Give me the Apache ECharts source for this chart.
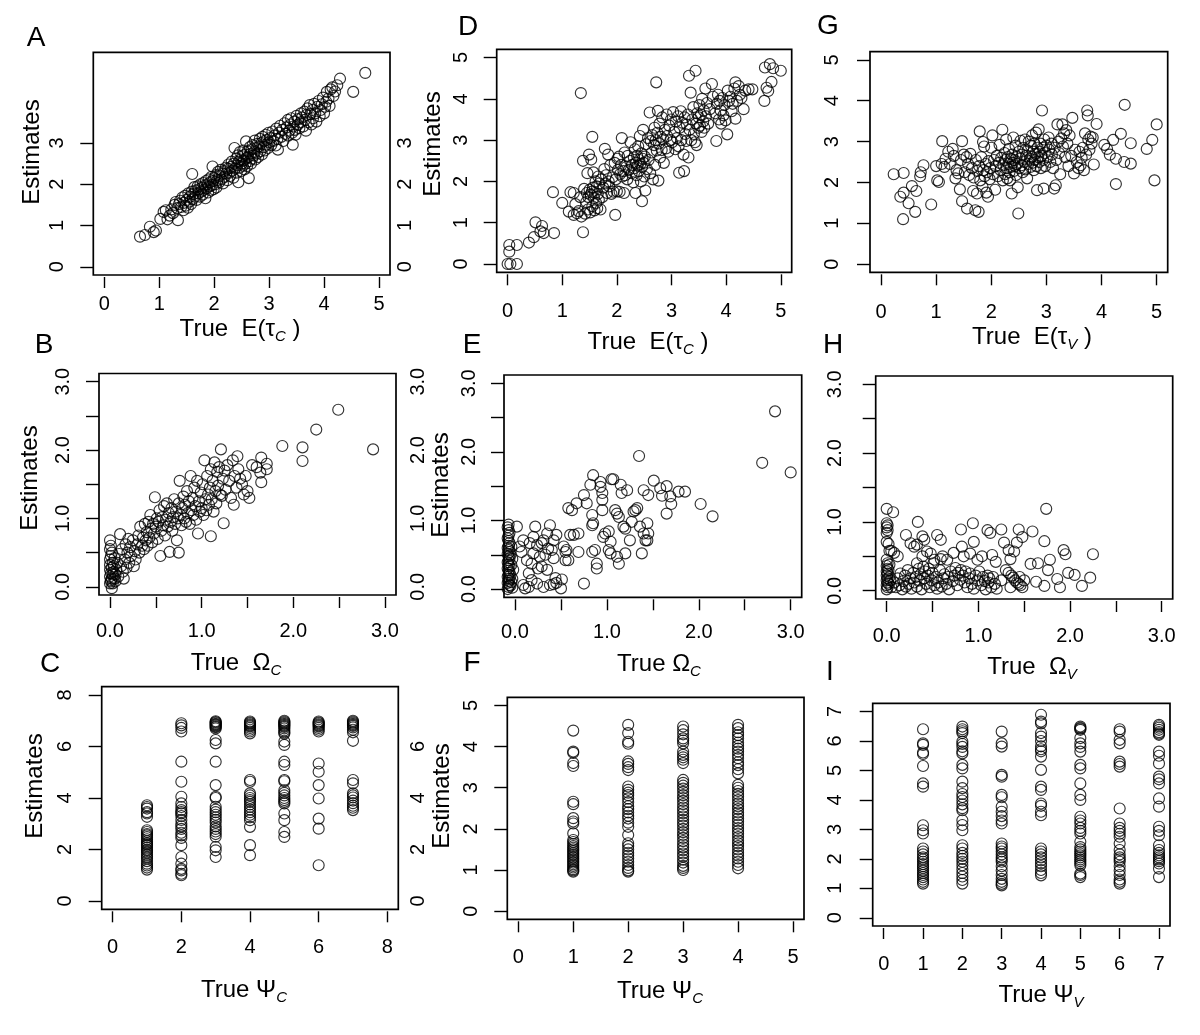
<!DOCTYPE html>
<html><head><meta charset="utf-8">
<script src="https://cdn.jsdelivr.net/npm/echarts@6/dist/echarts.min.js"></script>
<style>html,body{margin:0;padding:0;background:#fff}#c{width:1200px;height:1035px}</style>
</head><body><div id="c"></div>
<script>
// ---------- DATA ----------
// Panel A: True E(tau_C) vs Estimates
const A_pts = [[0.65,0.73],[0.74,0.77],[0.83,0.97],[0.90,0.84],[0.94,0.88],
[1.02,1.16],[1.08,1.33],[1.12,1.37],[1.15,1.15],[1.19,1.24],[1.22,1.39],[1.25,1.30],[1.28,1.50],[1.30,1.57],[1.34,1.13],
[1.33,1.42],[1.36,1.52],[1.38,1.60],[1.40,1.45],[1.42,1.68],[1.44,1.37],[1.45,1.55],[1.47,1.72],[1.48,1.48],[1.50,1.62],[1.52,1.43],[1.53,1.78],[1.55,1.58],[1.56,1.70],[1.58,1.52],[1.59,1.82],[1.60,2.25],[1.61,1.64],[1.62,1.76],[1.64,1.93],
[1.65,1.70],[1.66,1.85],[1.68,1.62],[1.70,1.95],[1.71,1.78],[1.72,1.88],[1.74,1.70],[1.75,2.00],[1.76,1.82],[1.78,1.92],[1.79,1.75],[1.80,2.03],[1.81,1.86],[1.83,1.97],[1.84,1.66],[1.85,2.08],[1.86,1.90],[1.88,2.00],[1.89,1.80],[1.90,2.12],[1.91,1.95],[1.93,2.05],[1.94,1.85],[1.95,2.18],[1.96,1.98],[1.97,2.43],[1.98,2.08],[1.99,1.88],[2.00,2.15],[2.02,2.00],
[2.03,2.22],[2.04,1.92],[2.06,2.10],[2.07,2.30],[2.09,2.05],[2.10,2.20],[2.12,2.35],[2.13,2.12],[2.15,2.25],[2.16,2.02],[2.18,2.32],[2.19,2.18],[2.21,2.40],[2.22,2.26],[2.24,2.10],[2.25,2.38],[2.26,2.48],[2.28,2.28],[2.29,2.20],[2.31,2.42],[2.32,2.55],[2.33,2.33],[2.35,2.16],[2.36,2.50],[2.37,2.88],[2.38,2.38],[2.40,2.62],[2.41,2.28],[2.42,2.46],[2.43,2.70],[2.44,2.05],[2.45,2.55],[2.46,2.40],[2.47,2.78],[2.48,2.60],[2.49,2.32],[2.50,2.50],[2.51,2.68],[2.52,2.45],[2.53,2.82],
[2.54,2.58],[2.55,2.36],[2.56,2.72],[2.57,2.50],[2.58,3.04],[2.59,2.64],[2.60,2.44],[2.61,2.80],[2.62,2.66],[2.63,2.15],[2.64,2.56],[2.65,2.90],[2.66,2.74],[2.67,2.50],[2.68,2.85],[2.69,2.62],[2.70,2.95],[2.72,2.70],[2.73,2.78],[2.74,3.06],[2.75,2.60],[2.77,2.88],[2.78,2.75],[2.79,2.98],[2.80,2.66],[2.82,2.92],[2.83,3.10],[2.84,2.80],[2.86,3.00],[2.87,2.72],[2.88,3.15],[2.90,2.90],[2.91,3.05],[2.92,2.82],[2.94,3.20],[2.95,2.96],[2.96,3.08],[2.98,2.88],[2.99,3.25],[3.00,3.02],
[3.02,3.12],[3.04,2.95],[3.06,3.28],[3.08,3.05],[3.10,3.18],[3.12,2.94],[3.13,3.35],[3.15,3.10],[3.16,2.84],[3.18,3.25],[3.20,3.42],[3.22,3.15],[3.24,3.32],[3.26,3.05],[3.28,3.48],[3.30,3.22],[3.32,3.38],[3.34,3.56],[3.35,3.18],[3.37,3.30],[3.39,3.45],[3.40,3.60],[3.42,3.25],[3.43,2.96],[3.44,3.40],[3.46,3.52],[3.47,3.32],[3.48,3.20],[3.50,3.66],[3.52,3.44],
[3.53,3.58],[3.55,3.36],[3.57,3.50],[3.58,3.72],[3.60,3.62],[3.62,3.40],[3.64,3.76],[3.65,3.56],[3.67,3.30],[3.68,3.68],[3.70,3.84],[3.72,3.50],[3.74,3.92],[3.75,3.70],[3.77,3.45],[3.79,3.80],[3.80,3.60],[3.82,3.95],[3.84,3.72],[3.86,3.52],[3.88,3.88],[3.90,4.02],[3.92,3.65],[3.94,3.80],[3.96,3.94],
[3.98,4.10],[4.00,3.72],[4.02,3.88],[4.04,4.00],[4.05,4.24],[4.08,4.08],[4.10,3.90],[4.12,4.30],[4.15,4.35],[4.17,4.14],[4.20,4.25],[4.24,4.40],[4.29,4.56],[4.53,4.24],[4.75,4.70]];

// Panel D: True E(tau_C) vs Estimates
const D_pts = [[0.00,0.00],[0.05,0.00],[0.17,0.00],[0.03,0.30],[0.03,0.46],[0.17,0.46],[0.39,0.52],[0.48,0.65],[0.51,1.01],[0.60,0.79],[0.63,0.92],[0.66,0.75],[0.85,0.75],[0.83,1.74],[1.00,1.48],
[1.12,1.27],[1.15,1.74],[1.21,1.72],[1.21,1.19],[1.27,1.23],[1.24,1.45],[1.30,1.28],[1.33,1.62],[1.34,4.14],[1.35,1.15],[1.38,0.77],[1.38,2.50],[1.40,1.82],[1.42,1.22],
[1.44,1.50],[1.45,1.72],[1.46,2.20],[1.47,1.32],[1.48,1.62],[1.49,2.65],[1.50,1.80],[1.51,1.25],[1.52,1.68],[1.53,2.53],[1.54,1.75],[1.55,3.08],[1.55,1.40],[1.56,1.85],[1.57,2.22],[1.58,1.60],[1.59,1.30],[1.60,1.72],[1.61,2.00],[1.62,1.48],[1.63,1.88],[1.64,1.35],[1.65,1.70],[1.66,2.12],[1.67,1.55],[1.68,1.95],[1.70,1.32],[1.71,2.05],[1.73,1.62],[1.75,1.85],
[1.77,2.30],[1.78,2.79],[1.79,1.95],[1.80,2.15],[1.82,1.72],[1.84,2.65],[1.85,2.00],[1.86,1.88],[1.88,2.40],[1.90,1.70],[1.92,2.10],[1.94,1.75],[1.96,2.45],[1.97,1.19],[1.98,2.05],[2.00,1.76],[2.01,2.55],[2.02,2.28],[2.04,2.60],[2.05,1.75],[2.06,2.18],[2.08,2.40],[2.09,3.05],[2.10,2.12],[2.12,2.25],[2.13,1.72],[2.14,2.70],[2.15,2.15],
[2.17,2.35],[2.19,2.05],[2.20,2.62],[2.22,2.28],[2.24,2.50],[2.25,2.95],[2.27,2.20],[2.28,2.40],[2.30,1.98],[2.31,2.58],[2.32,2.32],[2.33,2.78],[2.34,1.72],[2.35,2.45],[2.36,2.15],[2.37,2.62],[2.38,2.38],[2.39,2.85],[2.40,2.25],[2.41,2.52],[2.42,3.10],[2.43,2.42],[2.44,2.00],[2.45,2.68],[2.46,1.52],[2.46,2.35],[2.47,2.55],[2.48,3.25],[2.49,2.45],[2.50,2.12],[2.51,2.60],[2.52,1.78],[2.53,2.90],[2.55,2.30],[2.57,3.05],[2.58,2.52],[2.60,3.67],[2.61,2.20],[2.62,2.98],
[2.64,2.70],[2.65,3.12],[2.66,2.05],[2.68,2.88],[2.69,3.30],[2.70,2.40],[2.71,3.00],[2.72,4.40],[2.73,2.75],[2.74,3.18],[2.75,3.71],[2.76,2.02],[2.77,2.92],[2.78,3.40],[2.79,2.58],[2.80,3.08],[2.82,2.76],[2.83,3.55],[2.85,3.02],[2.86,2.45],[2.88,3.25],[2.90,2.80],[2.91,3.62],[2.92,3.10],[2.94,2.72],[2.96,3.35],[2.98,3.00],[2.99,3.50],
[3.01,2.95],[3.03,3.68],[3.05,3.20],[3.07,2.78],[3.08,3.45],[3.10,3.05],[3.12,3.58],[3.13,2.85],[3.14,2.21],[3.15,3.30],[3.17,3.70],[3.18,3.00],[3.20,3.42],[3.22,2.65],[3.23,2.25],[3.24,3.55],[3.25,3.15],[3.27,2.98],[3.28,3.38],[3.30,3.62],[3.31,2.58],[3.32,4.56],[3.33,3.25],[3.35,4.15],[3.36,3.00],[3.38,3.50],[3.40,3.80],[3.41,3.15],[3.43,2.95],[3.44,4.68],[3.45,3.40],[3.46,2.88],[3.47,3.65],[3.49,3.30],
[3.50,3.55],[3.51,3.85],[3.52,3.35],[3.54,3.62],[3.55,3.20],[3.56,4.00],[3.58,3.45],[3.59,3.72],[3.60,3.30],[3.62,4.25],[3.63,3.58],[3.65,3.90],[3.67,3.40],[3.70,3.75],[3.74,4.36],[3.76,4.05],[3.80,3.65],[3.82,2.98],[3.83,3.88],[3.85,4.10],[3.87,3.50],[3.88,3.95],[3.90,3.72],[3.91,3.40],[3.93,4.02],[3.95,3.60],[3.97,3.85],[3.99,3.48],
[4.02,3.14],[4.03,4.20],[4.05,3.95],[4.08,4.05],[4.10,3.70],[4.12,3.88],[4.15,4.25],[4.17,3.52],[4.17,4.40],[4.20,3.95],[4.23,4.31],[4.25,4.10],[4.28,4.02],[4.32,3.75],[4.35,4.20],[4.41,4.23],[4.48,4.23],[4.70,3.95],[4.71,4.76],[4.74,4.27],[4.77,4.19],[4.80,4.84],[4.83,4.41],[4.86,4.74],[5.00,4.68]];

// Panel G: True E(tau_V) vs Estimates
const G_pts = [[0.23,2.20],[0.41,2.23],[0.35,1.65],[0.41,1.75],[0.40,1.10],[0.56,1.91],[0.64,1.79],[0.50,1.49],[0.62,1.28],[0.71,2.15],[0.72,2.25],[0.77,2.42],[0.91,1.46],[1.02,2.05],[1.05,2.01],[1.00,2.40],[1.10,2.45],[1.11,3.01],[1.15,2.38],[1.17,2.58],[1.22,2.75],[1.25,2.45],[1.30,2.82],[1.32,2.65],[1.35,2.10],[1.37,2.30],[1.40,2.22],[1.43,1.83],[1.45,2.55],[1.47,3.01],[1.47,1.54],[1.50,2.68],[1.52,2.25],[1.55,2.62],[1.56,1.36],[1.58,2.45],[1.60,2.18],[1.62,2.70],[1.65,2.35],[1.67,1.79],[1.68,2.12],[1.71,1.32],[1.72,2.55],[1.74,1.73],[1.75,2.28],[1.77,1.28],[1.78,2.40],[1.79,3.25],[1.80,2.05],[1.82,2.62],[1.84,1.90],[1.85,2.99],[1.86,2.30],[1.87,2.88],[1.88,2.15],[1.90,2.45],[1.91,1.75],[1.92,2.25],[1.94,1.65],[1.95,2.52],[1.97,2.08],[1.98,2.35],[2.00,2.85],[2.02,3.15],[2.03,2.20],[2.05,2.55],[2.07,1.82],[2.08,2.40],[2.10,2.65],[2.12,2.15],[2.14,2.48],[2.15,2.92],[2.17,2.30],[2.18,2.60],[2.20,3.29],[2.21,2.05],[2.22,2.42],[2.24,2.72],[2.25,2.20],[2.26,2.55],[2.27,3.05],[2.28,2.35],[2.29,2.10],[2.30,2.62],[2.31,2.45],[2.32,2.82],[2.33,2.25],[2.34,2.05],[2.35,2.58],[2.36,2.38],[2.37,1.73],[2.38,2.68],[2.39,2.48],[2.40,3.10],[2.41,2.28],[2.42,2.55],[2.43,2.40],[2.44,2.90],[2.45,2.18],[2.46,2.62],[2.47,2.45],[2.48,1.88],[2.49,1.24],[2.50,2.75],[2.51,2.35],[2.52,2.58],[2.53,3.02],[2.55,2.42],[2.56,2.68],[2.57,2.25],[2.58,2.85],[2.60,2.50],[2.61,3.05],[2.62,2.32],[2.63,2.65],[2.65,2.10],[2.66,2.78],[2.67,2.45],[2.68,3.00],[2.70,2.58],[2.71,2.38],[2.72,2.90],[2.73,2.62],[2.74,3.15],[2.75,2.48],[2.76,2.75],[2.77,2.30],[2.78,2.95],[2.79,2.55],[2.80,2.70],[2.81,3.22],[2.82,2.40],[2.83,1.81],[2.84,2.85],[2.85,2.62],[2.86,3.30],[2.87,2.50],[2.88,2.75],[2.89,2.95],[2.90,2.35],[2.91,2.65],[2.92,3.76],[2.93,2.85],[2.94,2.55],[2.95,1.85],[2.96,3.05],[2.97,2.72],[2.98,2.40],[3.00,2.90],[3.02,2.62],[3.04,3.10],[3.05,2.80],[3.07,2.50],[3.09,2.95],[3.10,2.68],[3.12,2.35],[3.14,1.85],[3.15,2.85],[3.17,1.93],[3.18,2.55],[3.20,3.42],[3.22,3.00],[3.23,2.72],[3.25,2.20],[3.27,3.08],[3.29,3.42],[3.30,2.88],[3.32,3.20],[3.34,2.62],[3.36,3.28],[3.38,2.95],[3.40,2.40],[3.42,3.15],[3.45,2.65],[3.47,3.58],[3.50,2.22],[3.52,2.80],[3.55,2.50],[3.58,2.35],[3.60,2.75],[3.62,2.42],[3.64,2.60],[3.66,2.85],[3.68,2.30],[3.70,3.20],[3.72,2.68],[3.74,3.76],[3.75,3.64],[3.76,3.05],[3.78,2.80],[3.80,3.12],[3.82,2.95],[3.84,3.10],[3.86,2.44],[3.91,3.43],[4.05,2.92],[4.10,2.82],[4.15,2.68],[4.21,3.04],[4.26,2.58],[4.26,1.96],[4.35,3.19],[4.41,2.50],[4.42,3.90],[4.53,2.46],[4.53,2.96],[4.82,2.82],[4.92,3.04],[4.96,2.05],[5.00,3.42]];

// Panel B: True Omega_C vs Estimates
const B_pts = [[0.00,0.05],[0.01,0.10],[0.00,0.15],[0.02,0.12],[0.01,0.20],[0.00,0.25],[0.03,0.18],[0.02,0.28],[0.00,0.32],[0.01,0.08],[0.03,0.05],[0.02,-0.02],[0.00,0.40],[0.01,0.45],[0.02,0.50],[0.00,0.55],[0.01,0.60],[0.00,0.68],[0.03,0.35],[0.04,0.22],[0.05,0.12],[0.04,0.30],[0.05,0.42],[0.06,0.18],[0.07,0.25],[0.06,0.08],[0.08,0.35],[0.09,0.15],[0.10,0.48],[0.11,0.77],[0.12,0.30],[0.13,0.55],[0.14,0.22],[0.15,0.12],[0.16,0.40],[0.17,0.62],[0.18,0.28],[0.19,0.50],[0.20,0.70],[0.21,0.35],[0.22,0.58],[0.23,0.45],[0.25,0.68],[0.26,0.30],[0.27,0.52],[0.28,0.40],[0.30,0.62],[0.31,0.75],[0.32,0.50],[0.33,0.88],[0.35,0.60],[0.36,0.72],[0.37,0.55],[0.38,0.92],[0.39,0.68],[0.40,0.80],[0.41,0.60],[0.42,0.95],[0.43,0.72],[0.44,1.05],[0.45,0.85],[0.46,0.65],[0.47,0.92],[0.48,0.78],[0.49,1.31],[0.50,0.88],[0.51,1.00],[0.52,0.70],[0.53,0.95],[0.54,1.12],[0.55,0.45],[0.56,0.82],[0.57,1.02],[0.58,0.90],[0.59,1.18],[0.60,0.75],[0.61,0.98],[0.62,1.22],[0.63,0.88],[0.64,1.08],[0.65,0.51],[0.66,0.95],[0.67,1.15],[0.68,0.82],[0.69,1.02],[0.70,1.28],[0.71,0.92],[0.72,1.10],[0.73,0.68],[0.74,1.00],[0.75,0.50],[0.75,1.22],[0.76,1.55],[0.77,1.05],[0.78,0.90],[0.79,1.15],[0.80,1.32],[0.81,1.00],[0.82,1.20],[0.83,0.95],[0.84,1.40],[0.85,1.08],[0.86,1.25],[0.87,0.92],[0.88,1.62],[0.89,1.12],[0.90,1.30],[0.91,1.05],[0.92,1.45],[0.93,1.18],[0.94,0.98],[0.95,1.55],[0.96,0.78],[0.97,1.25],[0.98,1.10],[0.99,1.38],[1.00,1.15],[1.01,1.50],[1.02,1.05],[1.03,1.85],[1.04,1.28],[1.05,1.12],[1.06,1.62],[1.07,1.35],[1.08,1.20],[1.09,1.45],[1.10,0.74],[1.10,1.72],[1.11,1.28],[1.12,1.55],[1.13,1.10],[1.14,1.82],[1.15,1.40],[1.16,1.22],[1.17,1.68],[1.18,1.48],[1.19,1.75],[1.20,1.35],[1.21,2.01],[1.22,1.33],[1.23,1.58],[1.24,0.93],[1.25,1.70],[1.26,1.42],[1.28,1.78],[1.30,1.55],[1.32,1.30],[1.34,1.85],[1.35,1.20],[1.36,1.62],[1.38,1.45],[1.39,1.91],[1.40,1.72],[1.42,1.58],[1.44,1.50],[1.46,1.35],[1.48,1.62],[1.50,1.40],[1.52,1.30],[1.55,1.78],[1.60,1.75],[1.64,1.67],[1.65,1.53],[1.65,1.89],[1.71,1.80],[1.71,1.72],[1.88,2.06],[2.10,2.04],[2.10,1.84],[2.25,2.30],[2.49,2.59],[2.87,2.01]];

// Panel E: True Omega_C vs Estimates
const E_pts = [[-0.08,0.00],[-0.07,0.03],[-0.06,0.06],[-0.08,0.09],[-0.07,0.12],[-0.06,0.15],[-0.08,0.18],[-0.07,0.21],[-0.06,0.24],[-0.07,0.27],[-0.08,0.30],[-0.06,0.33],[-0.07,0.36],[-0.08,0.39],[-0.07,0.42],[-0.06,0.45],[-0.07,0.48],[-0.08,0.51],[-0.06,0.54],[-0.07,0.57],[-0.08,0.60],[-0.07,0.63],[-0.06,0.67],[-0.07,0.70],[-0.08,0.74],[-0.07,0.78],[-0.06,0.82],[-0.07,0.86],[-0.08,0.90],[-0.07,0.94],[-0.05,0.05],[-0.04,0.10],[-0.05,0.20],[-0.04,0.35],[-0.05,0.50],[-0.04,0.62],[-0.03,0.02],[-0.03,0.15],[-0.02,0.28],[-0.03,0.44],
[0.02,0.91],[0.05,0.62],[0.07,0.54],[0.09,0.71],[0.13,0.42],[0.15,0.23],[0.09,0.06],[0.18,0.37],[0.22,0.91],[0.20,0.76],[0.24,0.64],[0.27,0.47],[0.29,0.33],[0.31,0.71],[0.35,0.81],[0.36,0.59],[0.38,0.93],[0.40,0.57],[0.42,0.45],[0.31,0.03],[0.38,0.06],[0.44,0.16],[0.53,0.62],[0.56,0.57],[0.58,0.42],[0.18,0.13],[0.24,0.08],[0.11,0.01],[0.15,0.03],[0.35,0.28],[0.25,0.30],[0.42,0.71],[0.29,0.67],[0.33,0.50],[0.20,0.52],[0.16,0.67],[0.45,0.79],[0.50,0.01],[0.51,0.14],[0.42,0.07],[0.45,0.09],[0.55,0.54],[0.55,0.42],
[0.58,1.18],[0.62,1.15],[0.60,0.79],[0.64,0.79],[0.69,0.81],[0.67,1.25],[0.69,0.54],[0.75,1.37],[0.75,0.08],[0.78,1.25],[0.82,1.52],[0.84,1.08],[0.85,1.66],[0.84,0.93],[0.85,0.96],[0.84,0.54],[0.87,0.57],[0.89,0.37],[0.89,0.30],[0.93,1.56],[0.93,1.49],[0.95,1.40],[0.95,1.30],[0.95,1.15],[0.96,0.76],[0.98,0.81],[1.02,0.84],[1.04,0.69],[1.02,0.57],[1.04,0.52],[1.05,1.60],[1.07,1.60],[1.09,1.15],[1.11,1.10],[1.13,1.05],[1.11,0.47],[1.13,0.37],[1.15,1.52],[1.16,1.40],[1.18,0.91],[1.20,0.88],[1.22,1.44],[1.20,0.52],[1.25,0.71],[1.27,0.98],[1.29,1.13],[1.31,1.15],[1.33,1.18],[1.35,1.94],[1.36,0.91],[1.38,0.52],[1.40,0.81],[1.42,0.71],[1.44,0.96],[1.45,0.81],[1.44,0.71],[1.45,1.37],[1.40,1.44],[1.51,1.58],[1.58,1.47],[1.65,1.50],[1.60,1.36],[1.69,1.35],[1.70,1.24],[1.65,1.10],[1.78,1.42],[1.85,1.42],[2.02,1.24],[2.15,1.06],[2.83,2.59],[2.69,1.84],[3.00,1.70]];

// Panel H: True Omega_V vs Estimates
const H_pts = [[0.00,1.19],[0.07,1.14],[0.00,0.98],[0.01,0.95],[0.00,0.92],[0.01,0.88],[0.00,0.84],[0.00,0.71],[0.02,0.68],[0.03,0.58],[0.00,0.45],[0.01,0.40],[0.00,0.36],[0.01,0.32],[0.00,0.28],[0.01,0.25],[0.00,0.22],[0.01,0.18],[0.00,0.15],[0.01,0.12],[0.00,0.08],[0.01,0.05],[0.00,0.02],[0.02,0.30],[0.02,0.10],[0.03,0.20],[0.03,0.38],[0.04,0.15],[0.05,0.05],[0.05,0.58],
[0.08,0.55],[0.12,0.50],[0.21,0.81],[0.26,0.69],[0.39,0.79],[0.34,1.00],[0.41,0.74],[0.33,0.67],[0.30,0.64],[0.39,0.50],[0.33,0.40],[0.44,0.57],[0.48,0.54],[0.55,0.81],[0.59,0.74],[0.52,0.45],[0.59,0.46],[0.61,0.50],[0.66,0.45],[0.73,0.55],[0.81,0.89],[0.82,0.64],[0.84,0.50],[0.91,0.54],[0.94,0.98],[0.95,0.71],[0.99,0.45],[1.04,0.50],[1.10,0.88],[1.13,0.84],[1.15,0.52],[1.19,0.42],[1.25,0.89],[1.28,0.70],[1.33,0.59],[1.35,0.46],[1.39,0.57],[1.42,0.70],[1.44,0.89],[1.48,0.78],[1.59,0.86],[1.72,0.72],[1.74,1.19],[1.57,0.39],[1.65,0.40],[1.76,0.30],[1.78,0.45],[1.63,0.13],[1.72,0.07],[1.86,0.17],[1.89,0.05],[1.93,0.59],[1.95,0.53],[1.98,0.26],[2.05,0.23],[2.13,0.07],[2.22,0.19],[2.25,0.53],
[0.08,0.12],[0.10,0.05],[0.12,0.18],[0.14,0.08],[0.15,0.25],[0.17,0.02],[0.18,0.14],[0.20,0.22],[0.21,0.06],[0.23,0.30],[0.24,0.10],[0.26,0.18],[0.27,0.03],[0.29,0.26],[0.30,0.12],[0.32,0.20],[0.33,0.06],[0.35,0.32],[0.36,0.15],[0.37,0.24],[0.38,0.02],[0.40,0.35],[0.41,0.18],[0.42,0.28],[0.43,0.10],[0.45,0.22],[0.46,0.32],[0.47,0.05],[0.49,0.15],[0.50,0.26],[0.51,0.40],[0.52,0.08],[0.54,0.20],[0.55,0.03],[0.56,0.12],[0.58,0.30],[0.60,0.06],[0.62,0.18],[0.63,0.24],[0.65,0.10],[0.67,0.20],[0.68,0.02],[0.70,0.28],[0.72,0.14],[0.74,0.22],[0.75,0.33],[0.77,0.08],[0.78,0.26],[0.80,0.16],[0.81,0.30],[0.83,0.22],[0.85,0.12],[0.86,0.28],[0.88,0.05],[0.90,0.18],[0.91,0.25],[0.93,0.10],[0.95,0.03],[0.97,0.22],[0.99,0.15],[1.01,0.28],[1.03,0.08],[1.05,0.20],[1.07,0.14],[1.08,0.02],[1.10,0.22],[1.11,0.12],[1.12,0.18],[1.14,0.05],[1.16,0.20],[1.18,0.10],[1.20,0.03],[1.25,0.15],[1.30,0.30],[1.33,0.26],[1.36,0.22],[1.38,0.19],[1.40,0.15],[1.42,0.12],[1.44,0.10],[1.46,0.08],[1.48,0.05],[1.50,0.15],[1.45,0.20],[1.35,0.05]];

// Panel C: True Psi_C (1..7) vs Estimates
const C_psi1 = [3.72,3.65,3.59,3.45,3.40,3.27,2.75,2.68,2.60,2.55,2.48,2.40,2.32,2.25,2.20,2.15,2.08,2.00,1.95,1.88,1.80,1.72,1.65,1.55,1.45,1.38,1.30,1.22];
const C_psi2 = [6.90,6.82,6.72,6.58,5.41,4.63,4.05,3.79,3.65,3.53,3.45,3.40,3.30,3.15,3.00,2.90,2.80,2.65,2.55,2.45,2.17,1.71,1.45,1.25,1.19,1.06,1.00];
const C_psi3 = [6.98,6.95,6.92,6.88,6.85,6.82,6.78,6.75,6.70,6.25,6.12,5.41,4.50,4.05,4.00,3.66,3.55,3.45,3.35,3.25,3.15,3.05,2.90,2.80,2.70,2.60,2.50,2.10,1.97,1.71];
const C_psi4 = [6.97,6.93,6.90,6.86,6.82,6.78,6.72,6.65,6.58,6.51,4.70,4.63,4.18,4.10,4.00,3.92,3.85,3.75,3.65,3.55,3.45,3.35,3.25,3.14,2.88,2.17,1.78];
const C_psi5 = [7.00,6.96,6.92,6.88,6.84,6.80,6.76,6.70,6.62,6.55,6.50,6.19,6.06,5.41,5.28,4.70,4.65,4.30,4.20,4.10,4.00,3.92,3.85,3.79,3.40,3.14,2.68,2.49];
const C_psi6 = [6.97,6.93,6.90,6.86,6.82,6.78,6.72,6.65,6.58,5.34,5.02,4.50,3.98,3.20,2.81,1.39];
const C_psi7 = [7.00,6.96,6.92,6.88,6.84,6.80,6.74,6.65,6.55,6.22,4.70,4.57,4.18,4.10,4.02,3.90,3.80,3.70,3.62,3.53];

// Panel F: True Psi_C (1..4) vs Estimates
const F_psi1 = [4.39,3.88,3.85,3.60,3.53,2.66,2.60,2.26,2.18,2.13,1.89,1.73,1.68,1.63,1.58,1.54,1.50,1.46,1.42,1.38,1.34,1.30,1.26,1.22,1.18,1.14,1.10,1.06,1.02,0.99,0.96];
const F_psi2 = [4.53,4.33,4.12,4.07,3.64,3.58,3.50,3.43,3.03,2.95,2.88,2.82,2.74,2.65,2.55,2.48,2.40,2.32,2.25,2.15,2.05,1.85,1.65,1.58,1.50,1.42,1.35,1.28,1.20,1.12,1.05,0.99,0.96];
const F_psi3 = [4.49,4.40,4.30,4.20,4.15,4.08,3.88,3.80,3.74,3.68,3.60,3.19,3.12,3.05,2.98,2.90,2.82,2.75,2.68,2.60,2.52,2.45,2.38,2.30,2.22,2.15,2.08,2.00,1.92,1.85,1.78,1.70,1.62,1.55,1.48,1.40,1.33,1.25,1.18,1.10,1.05,1.00];
const F_psi4 = [4.53,4.45,4.35,4.28,4.20,4.10,4.02,3.95,3.88,3.80,3.72,3.62,3.55,3.45,3.35,3.07,3.00,2.92,2.85,2.78,2.70,2.62,2.55,2.48,2.40,2.33,2.25,2.18,2.10,2.02,1.95,1.88,1.80,1.72,1.65,1.58,1.50,1.42,1.35,1.28,1.20,1.12,1.04];

// Panel I: True Psi_V (1..7) vs Estimates
const I_psi1 = [6.40,5.92,5.87,5.61,5.56,5.15,4.56,4.45,3.14,2.97,2.86,2.35,2.25,2.15,2.05,1.98,1.90,1.82,1.75,1.68,1.60,1.52,1.45,1.38,1.30,1.22,1.16];
const I_psi2 = [6.49,6.40,6.33,6.27,5.98,5.90,5.80,5.65,5.58,5.19,5.07,4.62,4.40,4.20,4.10,3.98,3.85,3.72,3.65,3.31,3.15,2.97,2.46,2.35,2.20,2.10,2.00,1.90,1.78,1.65,1.52,1.40,1.28,1.16];
const I_psi3 = [6.32,5.92,5.81,4.85,4.79,4.17,4.09,3.77,3.60,3.45,3.30,3.20,2.52,2.42,2.35,2.25,2.15,2.05,1.98,1.90,1.75,1.60,1.45,1.32,1.22,1.15,1.10];
const I_psi4 = [6.89,6.66,6.60,6.27,6.15,6.00,5.82,5.72,5.65,5.47,5.02,4.45,4.34,3.88,3.80,3.60,3.48,2.35,2.25,2.15,2.05,1.95,1.85,1.75,1.62,1.52,1.44];
const I_psi5 = [6.49,6.45,6.42,6.38,6.10,5.92,5.80,5.64,5.19,5.07,4.56,4.17,4.00,3.43,3.30,3.20,3.05,2.95,2.86,2.58,2.40,2.32,2.25,2.18,2.12,2.05,1.98,1.92,1.85,1.78,1.50,1.45,1.38];
const I_psi6 = [6.40,6.32,6.04,5.92,5.30,5.22,5.13,3.71,3.20,3.05,2.95,2.85,2.75,2.52,2.30,2.15,2.05,1.98,1.90,1.75,1.60,1.45,1.30,1.22,1.16];
const I_psi7 = [6.55,6.50,6.45,6.38,6.30,6.25,6.21,5.64,5.50,5.24,4.79,4.70,4.56,4.05,3.77,3.09,2.95,2.80,2.46,2.30,2.20,2.12,2.05,1.98,1.92,1.84,1.67,1.38];

// Tick values / labels
const TICKS_0_5 = [0,1,2,3,4,5];
const TICKS_0_3 = [0,1,2,3];
const TICKS_OMEGA = [0,0.5,1,1.5,2,2.5,3];
const LABELS_OMEGA = [0,1,2,3];
const TICKS_0_8 = [0,2,4,6,8];
const TICKS_0_6 = [0,2,4,6];
const TICKS_0_7 = [0,1,2,3,4,5,6,7];

// ---------- BUILD ----------
const columns = (pairs) => pairs.flatMap(([x, ys]) => ys.map(y => [x, y]));
const C_pts = columns([[1,C_psi1],[2,C_psi2],[3,C_psi3],[4,C_psi4],[5,C_psi5],[6,C_psi6],[7,C_psi7]]);
const F_pts = columns([[1,F_psi1],[2,F_psi2],[3,F_psi3],[4,F_psi4]]);
const I_pts = columns([[1,I_psi1],[2,I_psi2],[3,I_psi3],[4,I_psi4],[5,I_psi5],[6,I_psi6],[7,I_psi7]]);

const FONT = '"Liberation Sans", Arial, Helvetica, sans-serif';
const intFmt = v => String(Math.round(v));
const decFmt = v => v.toFixed(1);

// layout: box = [left, top, right, bottom] in px; xm = x-label margin; yd = y-label centre distance from box
const panels = [
  {pts:A_pts, box:[93.3,52.3,390,275],   xr:[-0.2,5.2], yr:[-0.2,5.2], xt:TICKS_0_5, xl:TICKS_0_5, yt:TICKS_0_3, yl:TICKS_0_3, fmt:intFmt, xm:17, yd:36},
  {pts:B_pts, box:[99,373.5,396,595],    xr:[-0.12,3.12], yr:[-0.12,3.12], xt:TICKS_OMEGA, xl:LABELS_OMEGA, yt:TICKS_OMEGA, yl:LABELS_OMEGA, fmt:decFmt, xm:24, yd:35.5},
  {pts:C_pts, box:[101.7,686.7,398.3,909.3], xr:[-0.32,8.32], yr:[-0.32,8.32], xt:TICKS_0_8, xl:TICKS_0_8, yt:TICKS_0_8, yl:TICKS_0_8, fmt:intFmt, xm:26, yd:36.5},
  {pts:D_pts, box:[496.7,49.3,791.7,272.3], xr:[-0.2,5.2], yr:[-0.2,5.2], xt:TICKS_0_5, xl:TICKS_0_5, yt:TICKS_0_5, yl:TICKS_0_5, fmt:intFmt, xm:27, yd:35.5},
  {pts:E_pts, box:[504,375,801.7,597.3], xr:[-0.12,3.12], yr:[-0.12,3.12], xt:TICKS_OMEGA, xl:LABELS_OMEGA, yt:TICKS_OMEGA, yl:LABELS_OMEGA, fmt:decFmt, xm:23.5, yd:35},
  {pts:F_pts, box:[507.3,697.3,804,919.3], xr:[-0.2,5.2], yr:[-0.2,5.2], xt:TICKS_0_5, xl:TICKS_0_5, yt:TICKS_0_5, yl:TICKS_0_5, fmt:intFmt, xm:26.5, yd:36},
  {pts:G_pts, box:[870,51.7,1167.7,272.3], xr:[-0.2,5.2], yr:[-0.2,5.2], xt:TICKS_0_5, xl:TICKS_0_5, yt:TICKS_0_5, yl:TICKS_0_5, fmt:intFmt, xm:28.5, yd:38},
  {pts:H_pts, box:[875.7,376,1172.7,599], xr:[-0.12,3.12], yr:[-0.12,3.12], xt:TICKS_OMEGA, xl:LABELS_OMEGA, yt:TICKS_OMEGA, yl:LABELS_OMEGA, fmt:decFmt, xm:25.5, yd:40.5},
  {pts:I_pts, box:[872.7,703.3,1170,926], xr:[-0.28,7.28], yr:[-0.28,7.28], xt:TICKS_0_7, xl:TICKS_0_7, yt:TICKS_0_7, yl:TICKS_0_7, fmt:intFmt, xm:26.5, yd:37}
];

const labelStyle = {color:'#000', fontSize:20, fontFamily:FONT};
const grid = [], xAxis = [], yAxis = [], series = [];
panels.forEach((p, i) => {
  const [l,t,r,b] = p.box;
  grid.push({left:l, top:t, width:r-l, height:b-t, show:true, borderColor:'#000', borderWidth:1.7, backgroundColor:'transparent', containLabel:false});
  xAxis.push({gridIndex:i, type:'value', min:p.xr[0], max:p.xr[1], position:'bottom', offset:2,
    axisLine:{show:false, onZero:false}, splitLine:{show:false},
    axisTick:{show:true, customValues:p.xt, length:11, lineStyle:{color:'#000', width:1.4}},
    axisLabel:Object.assign({customValues:p.xl, formatter:p.fmt, margin:p.xm, hideOverlap:false}, labelStyle)});
  yAxis.push({gridIndex:i, type:'value', min:p.yr[0], max:p.yr[1], position:'left',
    axisLine:{show:false, onZero:false}, splitLine:{show:false},
    axisTick:{show:true, customValues:p.yt, length:13, lineStyle:{color:'#000', width:1.4}},
    axisLabel:{show:false}});
  series.push({type:'scatter', xAxisIndex:i, yAxisIndex:i, data:p.pts, symbol:'circle', symbolSize:11,
    itemStyle:{color:'rgba(255,255,255,0)', borderColor:'#000', borderWidth:1.15}, silent:true});
});
// repeated tick labels visible at the right edge of the left column (as in the composite figure)
const ghost = [
  {grid:0, yr:[-0.2,5.2], vals:TICKS_0_3, fmt:intFmt, m:5},
  {grid:1, yr:[-0.12,3.12], vals:LABELS_OMEGA, fmt:decFmt, m:12.5},
  {grid:2, yr:[-0.32,8.32], vals:TICKS_0_6, fmt:intFmt, m:10}
];
ghost.forEach(g => {
  yAxis.push({gridIndex:g.grid, type:'value', min:g.yr[0], max:g.yr[1], position:'right',
    axisLine:{show:false, onZero:false}, axisTick:{show:false}, splitLine:{show:false},
    axisLabel:Object.assign({customValues:g.vals, formatter:g.fmt, margin:g.m, rotate:90,
      align:'center', verticalAlign:'top', lineHeight:20, hideOverlap:false}, labelStyle)});
});

// ---------- TEXT ----------
const txt = (x, y, text, size, rot) => ({type:'text', x, y, rotation:rot||0, silent:true,
  style:{text, fill:'#000', font:size+'px '+FONT, align:'center', verticalAlign:'middle'}});
const richTitle = (x, y, main, sub, tail) => ({type:'text', x, y, silent:true,
  style:{text:'{a|'+main+'}{s|'+sub+'}{a|'+(tail||'')+'}', align:'center', verticalAlign:'middle',
    rich:{a:{fontSize:24, fontFamily:FONT, fill:'#000', lineHeight:30},
          s:{fontSize:15, fontFamily:FONT, fontStyle:'italic', fill:'#000', lineHeight:14, verticalAlign:'bottom'}}}});

const graphic = [
  txt(36,38,'A',28), txt(468,27,'D',28), txt(828,26,'G',28),
  txt(44,345,'B',28), txt(472,345,'E',28), txt(833,345,'H',28),
  txt(50,664,'C',28), txt(472,663,'F',28), txt(830,672,'I',28),
  txt(32,152,'Estimates',24,Math.PI/2), txt(433,144,'Estimates',24,Math.PI/2),
  txt(30,478,'Estimates',24,Math.PI/2), txt(441,485,'Estimates',24,Math.PI/2),
  txt(35,786,'Estimates',24,Math.PI/2), txt(442,796,'Estimates',24,Math.PI/2),
  richTitle(240,329,'True  E(τ','C',' )'), richTitle(648,342,'True  E(τ','C',' )'), richTitle(1032,337,'True  E(τ','V',' )'),
  richTitle(236,663,'True  Ω','C'), richTitle(659,664,'True Ω','C'), richTitle(1032,667,'True  Ω','V'),
  richTitle(244,990,'True Ψ','C'), richTitle(660,991,'True Ψ','C'), richTitle(1041,995,'True Ψ','V')
];

const chart = echarts.init(document.getElementById('c'), null, {renderer:'canvas', width:1200, height:1035});
chart.setOption({backgroundColor:'#fff', animation:false, grid, xAxis, yAxis, series});
// y tick labels (rotated, R style), positioned through each panel's y-axis scale
panels.forEach((p, i) => {
  p.yl.forEach(v => {
    const py = chart.convertToPixel({yAxisIndex:i}, v);
    graphic.push(txt(p.box[0] - p.yd, py, p.fmt(v), 20, Math.PI/2));
  });
});
chart.setOption({graphic});
</script></body></html>
